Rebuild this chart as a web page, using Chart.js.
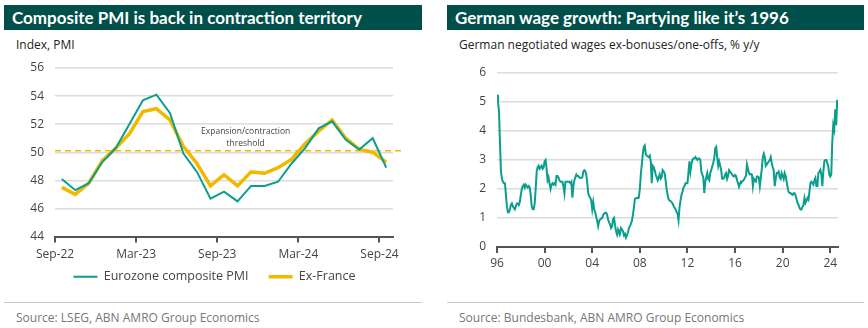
<!DOCTYPE html>
<html>
<head>
<meta charset="utf-8">
<script src="https://cdn.jsdelivr.net/npm/chart.js@4.4.1/dist/chart.umd.min.js"></script>
<style>
body{margin:0;width:868px;height:328px;background:#fff;font-family:"Open Sans",sans-serif;position:relative;overflow:hidden}
.bar{position:absolute;top:5px;height:25px;background:#004f4a;color:#fff;font:bold 17px Lato,sans-serif;line-height:25px;padding-left:8px;box-sizing:border-box;white-space:nowrap}
.sub{position:absolute;top:36px;font-size:12px;color:#222;white-space:nowrap}
.sep{position:absolute;top:302px;height:1px;background:#ccc}
.src{position:absolute;top:309px;font-size:12px;color:#777;white-space:nowrap}
.box{position:absolute;top:55px;width:434px;height:240px}
</style>
</head>
<body>
<div class="bar" style="left:4px;width:418px">Composite PMI is back in contraction territory</div>
<div class="bar" style="left:447px;width:417px">German wage growth: Partying like it’s 1996</div>
<div class="sub" style="left:16px">Index, PMI</div>
<div class="sub" style="left:459px">German negotiated wages ex-bonuses/one-offs, % y/y</div>
<div class="box" style="left:0"><canvas id="pmi" width="434" height="240"></canvas></div>
<div class="box" style="left:434px"><canvas id="wages" width="434" height="240"></canvas></div>
<div class="sep" style="left:4px;width:418px"></div>
<div class="sep" style="left:447px;width:417px"></div>
<div class="src" style="left:16px">Source: LSEG, ABN AMRO Group Economics</div>
<div class="src" style="left:459px">Source: Bundesbank, ABN AMRO Group Economics</div>
<script>
// --- PMI (monthly, Sep-22 .. Sep-24) ---
const pmiTickLabels = ['Sep-22', 'Mar-23', 'Sep-23', 'Mar-24', 'Sep-24'];
const eurozonePmi = [48.1, 47.3, 47.8, 49.3, 50.3, 52.0, 53.7, 54.1, 52.8, 49.9, 48.6, 46.7, 47.2,
    46.5, 47.6, 47.6, 47.9, 49.2, 50.3, 51.7, 52.2, 50.9, 50.2, 51.0, 48.9];
const exFrancePmi = [47.5, 47.0, 47.8, 49.4, 50.3, 51.3, 52.9, 53.1, 52.3, 50.4, 49.2, 47.6, 48.4,
    47.6, 48.6, 48.5, 48.9, 49.5, 50.6, 51.5, 52.3, 51.0, 50.2, 50.0, 49.3];
const threshold = 50.1;

// --- Negotiated wages (monthly from Jan-96) ---
const wageStartYear = 1996;
const wageTickYears = [1996, 2000, 2004, 2008, 2012, 2016, 2020, 2024];
const wageTickLabels = ['96', '00', '04', '08', '12', '16', '20', '24'];
const wageGrowth = [
    5.25, 5.0, 4.7, 3.6, 2.6, 2.35, 2.25, 2.2, 2.2, 1.8, 1.4, 1.2,      // 96
    1.2, 1.3, 1.45, 1.5, 1.4, 1.35, 1.3, 1.4, 1.5, 1.5, 1.45, 1.55,     // 97
    1.8, 2.0, 2.1, 2.15, 2.05, 2.15, 2.1, 2.05, 2.1, 2.05, 1.8, 1.4,    // 98
    1.3, 1.3, 1.5, 2.0, 2.6, 2.75, 2.8, 2.7, 2.75, 2.8, 2.7, 2.75,      // 99
    2.95, 3.0, 2.7, 2.3, 2.4, 2.2, 2.0, 2.15, 2.2, 2.15, 2.2, 2.15,     // 00
    2.45, 2.45, 2.4, 2.3, 2.25, 2.25, 2.25, 2.1, 1.85, 2.25, 2.25, 2.25, // 01
    2.25, 2.25, 2.2, 2.25, 1.7, 2.1, 2.3, 2.4, 2.5, 2.45, 2.45, 2.4,    // 02
    2.38, 2.38, 2.4, 2.6, 2.65, 2.62, 2.5, 2.2, 1.85, 1.75, 1.7, 1.6,   // 03
    1.3, 1.55, 1.3, 1.2, 1.05, 0.9, 0.72, 0.9, 0.95, 0.98, 1.0, 1.1,    // 04
    1.15, 1.18, 1.18, 1.12, 0.95, 0.85, 0.78, 0.65, 0.7, 0.95, 1.0, 0.75, // 05
    0.55, 0.43, 0.6, 0.5, 0.45, 0.65, 0.6, 0.55, 0.4, 0.45, 0.32, 0.4,  // 06
    0.5, 0.65, 0.72, 0.8, 0.9, 1.1, 1.35, 1.66, 1.68, 1.7, 1.68, 1.7,   // 07
    2.0, 2.5, 2.85, 3.2, 3.45, 3.5, 3.2, 3.15, 3.12, 3.1, 3.15, 2.95,   // 08
    2.2, 2.8, 2.75, 2.65, 2.5, 2.4, 2.3, 2.4, 2.5, 2.35, 2.4, 2.65,     // 09
    2.6, 2.55, 2.3, 2.0, 1.8, 1.65, 1.6, 1.58, 1.55, 1.5, 1.42, 1.35,   // 10
    1.3, 1.22, 1.15, 0.92, 1.35, 1.6, 1.8, 1.9, 2.05, 2.1, 2.2, 2.2,    // 11
    2.2, 2.55, 2.95, 2.6, 2.85, 3.0, 3.05, 3.05, 3.1, 3.05, 3.0, 3.05,  // 12
    3.05, 3.0, 2.6, 2.5, 2.4, 1.86, 2.25, 2.4, 2.55, 2.35, 2.3, 2.55,   // 13
    2.65, 2.78, 2.9, 3.05, 3.4, 3.45, 3.1, 2.8, 2.95, 2.8, 2.65, 2.35,  // 14
    2.35, 2.38, 2.5, 2.55, 2.35, 2.45, 2.65, 2.6, 2.55, 2.5, 2.45, 2.43, // 15
    2.48, 2.45, 2.3, 2.2, 2.08, 2.2, 2.26, 2.25, 2.28, 2.32, 2.4, 2.45, // 16
    2.85, 2.7, 2.55, 2.5, 2.52, 2.5, 2.1, 2.35, 2.3, 2.26, 2.43, 2.43,  // 17
    2.4, 2.1, 2.4, 2.7, 3.1, 3.22, 3.1, 2.8, 2.85, 2.9, 2.95, 3.0,      // 18
    3.1, 2.9, 2.75, 2.65, 2.1, 2.35, 2.55, 2.55, 2.6, 2.4, 2.35, 2.55,  // 19
    2.45, 2.35, 2.55, 2.45, 2.25, 2.05, 1.9, 1.86, 1.86, 1.82, 1.8, 1.85, // 20
    1.85, 1.78, 1.65, 1.52, 1.45, 1.35, 1.29, 1.29, 1.38, 1.46, 1.69, 1.52, // 21
    1.6, 1.69, 1.63, 1.9, 2.2, 2.25, 2.2, 2.15, 2.3, 2.38, 2.1, 2.1,    // 22
    2.55, 2.6, 2.66, 2.5, 2.1, 2.6, 2.95, 3.0, 3.0, 2.9, 2.78, 2.5,     // 23
    2.43, 2.5, 3.6, 4.2, 4.05, 4.75, 4.2, 5.08                          // 24
];

const TEAL = '#0a9e8c';
const YELLOW = '#f2b800';
const TEXT = '#444';
const GRID = '#dcdcdc';
const AXIS = '#555';

Chart.defaults.font.family = '"Open Sans", sans-serif';
Chart.defaults.font.size = 12;
Chart.defaults.color = TEXT;

const thresholdNote = {
    id: 'thresholdNote',
    afterDatasetsDraw(chart) {
        const { ctx, scales: { x, y } } = chart;
        ctx.save();
        ctx.font = '8.5px "Open Sans"';
        ctx.fillStyle = TEXT;
        ctx.textAlign = 'center';
        ctx.textBaseline = 'middle';
        ctx.fillText('Expansion/contraction', x.getPixelForValue(14.1), y.getPixelForValue(51.45));
        ctx.fillText('threshold', x.getPixelForValue(14.1), y.getPixelForValue(50.65));
        ctx.restore();
    }
};

// x labels may run past the (short) x-axis box, and the legend sits a bit right of centre
const legendNudge = {
    id: 'legendNudge',
    afterLayout(chart) {
        chart.scales.x.bottom = chart.height;
        if (chart.legend && chart.legend.options.display) {
            chart.legend.left += 18;
            chart.legend.right += 18;
        }
    }
};

function axisX(ticksAt, labels, min, max, height, pad) {
    return {
        type: 'linear', min: min, max: max,
        afterBuildTicks: s => { s.ticks = ticksAt.map(v => ({ value: v })); },
        afterFit: s => { s.height = height; },
        ticks: { callback: v => labels[ticksAt.indexOf(v)], padding: pad, maxRotation: 0, autoSkip: false },
        grid: { drawOnChartArea: false, color: AXIS, lineWidth: 2, tickLength: 6 },
        border: { color: AXIS, width: 2 }
    };
}

function axisY(min, max, step, width) {
    return {
        min: min, max: max,
        afterFit: s => { s.width = width; s.paddingTop = 0; s.paddingBottom = 0; },
        ticks: { stepSize: step, padding: 11 },
        grid: { color: c => c.tick.value === min ? 'transparent' : GRID, lineWidth: 1.5, drawTicks: false },
        border: { display: false }
    };
}

new Chart(document.getElementById('pmi'), {
    type: 'line',
    data: {
        datasets: [{
            label: 'Eurozone composite PMI',
            data: eurozonePmi.map((v, i) => ({ x: i + 0.5, y: v })),
            borderColor: TEAL, backgroundColor: TEAL, borderWidth: 2, pointRadius: 0
        }, {
            label: 'Ex-France',
            data: exFrancePmi.map((v, i) => ({ x: i + 0.5, y: v })),
            borderColor: YELLOW, backgroundColor: YELLOW, borderWidth: 3.5, pointRadius: 0
        }, {
            label: 'threshold',
            data: [{ x: 0, y: threshold }, { x: 25.7, y: threshold }],
            borderColor: YELLOW, borderWidth: 1.5, borderDash: [6, 4], pointRadius: 0, clip: false
        }]
    },
    options: {
        responsive: false, animation: false,
        layout: { padding: { top: 13, right: 41, left: 0, bottom: 2 } },
        scales: {
            x: axisX([0, 6, 12, 18, 24], pmiTickLabels, 0, 25, 14, 5),
            y: axisY(44, 56, 2, 55)
        },
        plugins: {
            legend: {
                position: 'bottom',
                labels: {
                    filter: it => it.datasetIndex < 2,
                    usePointStyle: true, pointStyle: 'line', pointStyleWidth: 24,
                    padding: 20, color: TEXT, font: { size: 12.5 }
                }
            },
            tooltip: { enabled: false }
        }
    },
    plugins: [thresholdNote, legendNudge]
});

new Chart(document.getElementById('wages'), {
    type: 'line',
    data: {
        datasets: [{
            label: 'Negotiated wages',
            data: wageGrowth.map((v, i) => ({ x: wageStartYear + i / 12, y: v })),
            borderColor: TEAL, borderWidth: 2, pointRadius: 0
        }]
    },
    options: {
        responsive: false, animation: false,
        layout: { padding: { top: 18, right: 30, left: 0, bottom: 0 } },
        scales: {
            x: axisX(wageTickYears, wageTickLabels, 1996, 2024.65, 48, 3),
            y: axisY(0, 6, 1, 63)
        },
        plugins: { legend: { display: false }, tooltip: { enabled: false } }
    },
    plugins: [legendNudge]
});
</script>
</body>
</html>
